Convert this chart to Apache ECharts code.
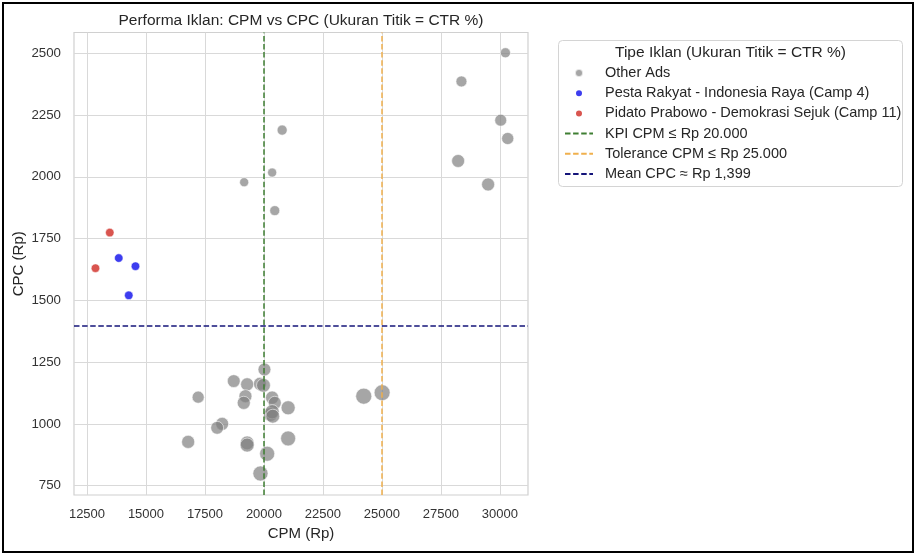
<!DOCTYPE html>
<html>
<head>
<meta charset="utf-8">
<script src="https://cdn.jsdelivr.net/npm/echarts@6/dist/echarts.min.js"></script>
<style>
html,body{margin:0;padding:0;background:#fff;}
#chart{position:absolute;left:0;top:0;width:916px;height:556px;}
#frame{position:absolute;left:2px;top:2px;width:912px;height:551px;border:2px solid #000;box-sizing:border-box;pointer-events:none;}
</style>
</head>
<body>
<div id="chart"></div>
<div id="frame"></div>
<script>
// ---- data ----
const xTicks = [12500, 15000, 17500, 20000, 22500, 25000, 27500, 30000];
const yTicks = [750, 1000, 1250, 1500, 1750, 2000, 2250, 2500];

const otherCPM = [20771, 20347, 19161, 20458,
  30233, 28369, 30034, 30331, 28229, 29500,
  20021, 18720, 19288, 19830, 19979, 17212, 19216, 19144, 20347, 20458,
  21025, 20275, 20347, 20373, 18229, 18017, 16788, 19288, 19288, 21025,
  20136, 19852, 24229, 25008];
const otherCPC = [2189, 2017, 1978, 1863,
  2502, 2386, 2229, 2155, 2064, 1969,
  1220, 1173, 1160, 1162, 1156, 1108, 1112, 1085, 1106, 1085,
  1065, 1038, 1049, 1031, 1000, 984, 927, 923, 914, 941,
  879, 799, 1112, 1126];
const otherCTR = [1.52, 1.27, 1.26, 1.49,
  1.51, 1.74, 1.98, 2.03, 2.24, 2.26,
  2.22, 2.21, 2.27, 2.25, 2.46, 2.02, 2.23, 2.28, 2.31, 2.26,
  2.52, 2.48, 2.55, 2.47, 2.24, 2.21, 2.27, 2.45, 2.51, 2.74,
  2.76, 2.78, 3.02, 2.98];

const pestaCPM = [13847, 14555, 14271];
const pestaCPC = [1671, 1638, 1520];
const pidatoCPM = [13466, 12860];
const pidatoCPC = [1774, 1630];

const kpiCPM = 20000;
const tolCPM = 25000;
const meanCPC = 1399;

const names = {
  other: 'Other Ads',
  pesta: 'Pesta Rakyat - Indonesia Raya (Camp 4)',
  pidato: 'Pidato Prabowo - Demokrasi Sejuk (Camp 11)',
  kpi: 'KPI CPM ≤ Rp 20.000',
  tol: 'Tolerance CPM ≤ Rp 25.000',
  mean: 'Mean CPC ≈ Rp 1,399'
};

// ---- build ----
const otherData = otherCPM.map((x, i) => [x, otherCPC[i], otherCTR[i]]);
const pestaData = pestaCPM.map((x, i) => [x, pestaCPC[i]]);
const pidatoData = pidatoCPM.map((x, i) => [x, pidatoCPC[i]]);

const FONT = '"Liberation Sans", Arial, sans-serif';
const TXT = '#262626';
const GRIDC = '#d9d9d9';

function refLine(name, color, mark) {
  return {
    name: name, type: 'line', data: [], symbol: 'none', z: 5,
    lineStyle: { color: color, width: 1.5, type: [5.5, 2.6] },
    itemStyle: { color: 'rgba(0,0,0,0)', borderColor: 'rgba(0,0,0,0)', borderWidth: 0 },
    markLine: {
      silent: true, symbol: 'none', label: { show: false },
      lineStyle: { color: color, width: 1.5, type: [5.5, 2.6] },
      emphasis: { disabled: true },
      animation: false,
      data: [mark]
    }
  };
}

const chart = echarts.init(document.getElementById('chart'), null, { renderer: 'canvas' });
chart.setOption({
  animation: false,
  backgroundColor: '#fff',
  textStyle: { fontFamily: FONT },
  grid: { left: 74, top: 32.5, width: 454, height: 462.5, show: true, borderColor: '#d0d0d0', borderWidth: 1.2, backgroundColor: '#fff' },
  xAxis: {
    type: 'value', min: 11950, max: 31190,
    name: 'CPM (Rp)', nameLocation: 'middle', nameGap: 31,
    nameTextStyle: { fontSize: 15, color: TXT, fontFamily: FONT },
    axisLine: { show: false },
    axisTick: { show: false, customValues: xTicks },
    axisLabel: { customValues: xTicks, fontSize: 13, color: '#333', margin: 13, fontFamily: FONT,
      formatter: function (v) { return String(v); } },
    splitLine: { show: true, lineStyle: { color: GRIDC, width: 1 } }
  },
  yAxis: {
    type: 'value', min: 712, max: 2584,
    name: 'CPC (Rp)', nameLocation: 'middle', nameGap: 48,
    nameTextStyle: { fontSize: 15, color: TXT, fontFamily: FONT },
    axisLine: { show: false },
    axisTick: { show: false, customValues: yTicks },
    axisLabel: { customValues: yTicks, fontSize: 13.3, color: '#333', margin: 13, fontFamily: FONT,
      formatter: function (v) { return String(v); } },
    splitLine: { show: true, lineStyle: { color: GRIDC, width: 1 } }
  },
  graphic: [
    { type: 'text', x: 301, y: 20.5, z: 10,
      style: { text: 'Performa Iklan: CPM vs CPC (Ukuran Titik = CTR %)', fontSize: 15.5, fill: TXT, fontFamily: FONT, textAlign: 'center', textVerticalAlign: 'middle' } },
    { type: 'rect', shape: { x: 558.5, y: 40.5, width: 344, height: 146, r: 4 }, z: 1,
      style: { fill: '#fff', stroke: '#d4d4d4', lineWidth: 1 } },
    { type: 'text', x: 730.5, y: 52.5, z: 10,
      style: { text: 'Tipe Iklan (Ukuran Titik = CTR %)', fontSize: 15.5, fill: TXT, fontFamily: FONT, textAlign: 'center', textVerticalAlign: 'middle' } }
  ],
  legend: {
    orient: 'vertical', left: 564, top: 63, padding: 0, z: 6,
    itemWidth: 28, itemHeight: 8, itemGap: 0.2,
    data: [names.other, names.pesta, names.pidato, names.kpi, names.tol, names.mean],
    textStyle: { fontSize: 14.5, color: TXT, fontFamily: FONT, lineHeight: 20, padding: [0, 0, 0, 7] },
    selectedMode: false
  },
  series: [
    { name: names.other, type: 'scatter', data: otherData, z: 2,
      symbolSize: function (v) { return 4 + v[2] * 4; },
      itemStyle: { color: '#808080', opacity: 0.7, borderColor: '#ffffff', borderWidth: 0.8 } },
    { name: names.pesta, type: 'scatter', data: pestaData, symbolSize: 8.5, z: 3,
      itemStyle: { color: '#3d3def', opacity: 1, borderColor: '#ffffff', borderWidth: 0.5 } },
    { name: names.pidato, type: 'scatter', data: pidatoData, symbolSize: 8.5, z: 3,
      itemStyle: { color: '#d9554f', opacity: 1, borderColor: '#ffffff', borderWidth: 0.5 } },
    refLine(names.kpi, '#3f7f33', { xAxis: kpiCPM }),
    refLine(names.tol, '#f0b04d', { xAxis: tolCPM }),
    refLine(names.mean, '#14147a', { yAxis: meanCPC })
  ]
});
</script>
</body>
</html>
